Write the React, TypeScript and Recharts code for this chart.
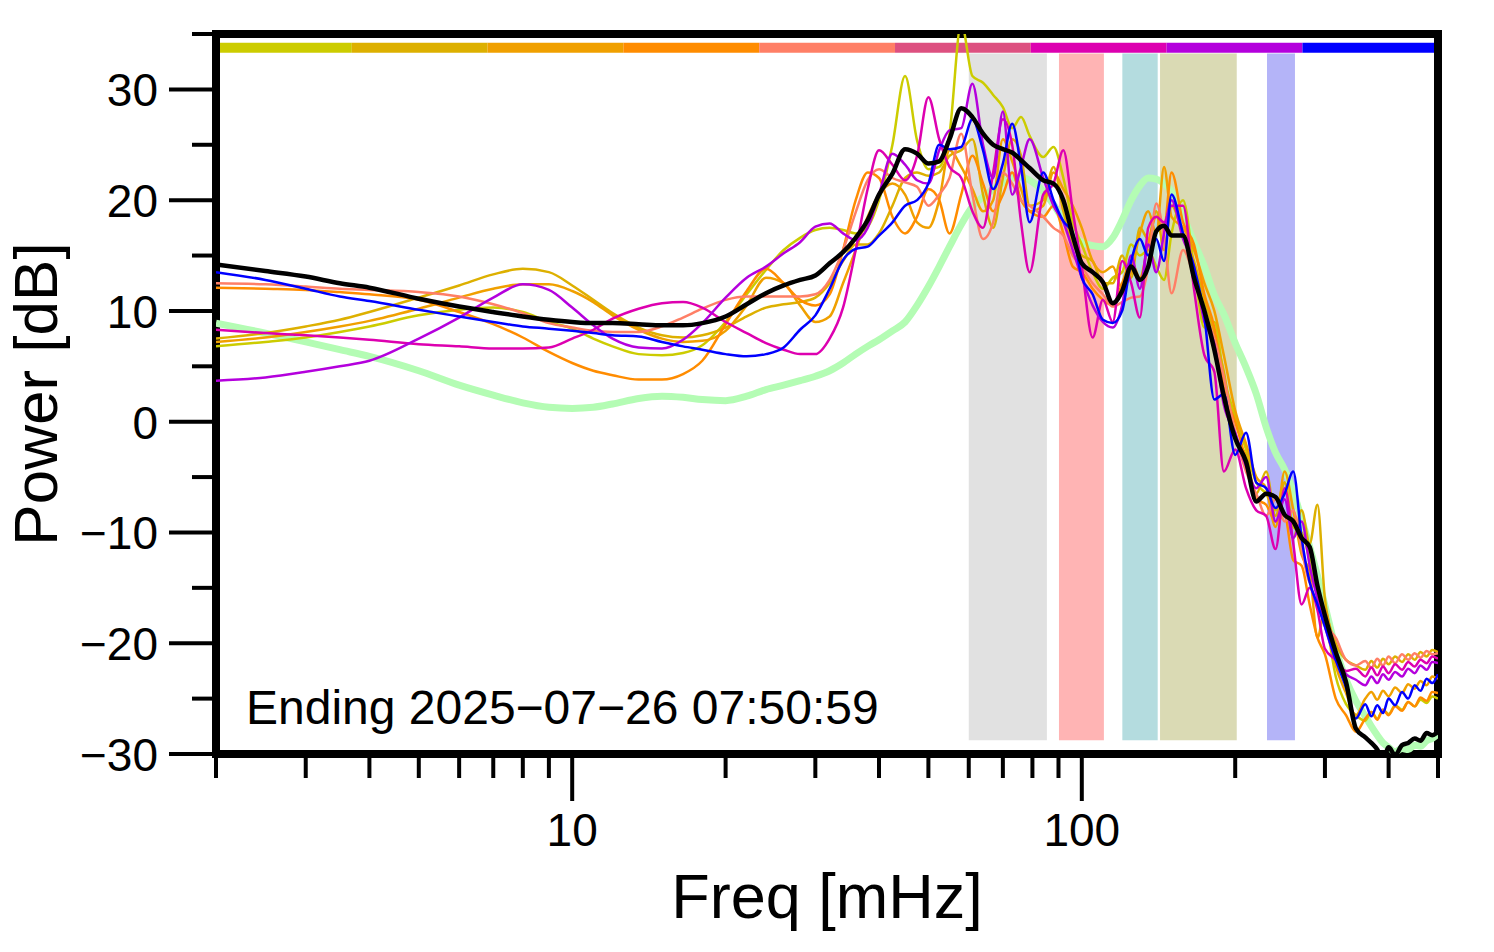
import React from 'react';
import { LineChart, Line, XAxis, YAxis, ReferenceArea, Label } from 'recharts';

const FONT = '"Liberation Sans", Arial, Helvetica, sans-serif';

const FREQ = [
  2, 2.5, 3, 3.5, 4, 5, 6, 7, 8, 9, 10, 11, 12, 13.5, 15, 16.5, 18, 20, 22, 24, 26, 28, 30, 32, 34, 36, 38,
  40, 42.5, 45, 47.5, 50, 52.5, 55, 58, 61, 64, 67, 70, 73, 76, 79,
  84, 88, 92, 96, 100, 105, 110, 115, 120, 125, 130, 135, 140, 145, 150,
  158, 166, 174, 182, 190, 200, 210, 220, 230, 240, 250, 260, 270, 280, 290, 300,
  315, 330, 345, 360, 370, 380, 390, 400, 412, 425, 437, 450, 462, 475, 487, 500,
];

const MEAN = [
  14.2, 13.6, 13.1, 12.5, 12.1, 11.1, 10.4, 9.9, 9.5, 9.2, 9.0, 8.9, 8.9, 8.8, 8.7, 8.7, 8.9, 9.5, 10.6, 11.6, 12.3, 12.8, 13.2, 14.3, 15.3, 16.6, 18.2,
  20.5, 22.4, 24.6, 24.2, 23.3, 23.5, 25.5, 28.3, 27.5, 26.0, 25.0, 24.6, 24.3, 23.6, 22.9,
  21.8, 21.5, 20.0, 16.8, 14.3, 13.5, 12.6, 10.7, 11.8, 14.0, 12.8, 14.0, 17.2, 17.7, 16.8,
  16.8, 13.0, 10.0, 6.5, 2.3, -1.5, -3.6, -7.2, -6.5, -6.8, -8.4, -9.0, -10.5, -11.3, -14.8, -17.5,
  -20.8, -23.5, -27.7, -28.5, -29.0, -29.6, -30.6, -29.4, -30.1, -29.2, -29.0, -28.6, -28.8, -28.1, -28.3, -28.0,
];

const REFERENCE = [
  8.9, 8.0, 7.2, 6.5, 5.9, 4.6, 3.3, 2.4, 1.7, 1.3, 1.2, 1.3, 1.6, 2.1, 2.3, 2.2, 2.0, 1.9, 2.3, 2.9, 3.3, 3.7, 4.1, 4.6, 5.3, 6.1, 6.8,
  7.4, 8.2, 9.0, 10.5, 12.2, 14.0, 15.8, 17.8, 19.4, 20.3, 21.0, 21.6, 22.0, 22.1, 21.8,
  20.8, 19.6, 18.2, 17.0, 16.2, 15.9, 15.8, 16.6, 18.2, 20.0, 21.3, 22.0, 21.9, 21.5, 20.8,
  18.6, 16.2, 14.0, 11.4, 9.7, 7.1, 4.9, 2.5, -0.5, -2.8, -4.3, -6.3, -8.8, -11.3, -13.9, -16.6,
  -20.5, -23.3, -25.2, -26.6, -27.5, -28.3, -29.0, -29.4, -29.8, -29.5, -29.6, -29.2, -29.3, -28.8, -28.6, -28.2,
];

const S1 = [
  6.8, 7.2, 7.6, 8.1, 8.6, 9.6, 10.1, 10.3, 9.9, 9.0, 8.4, 7.5, 6.8, 6.1, 6.0, 6.2, 6.9, 9.0, 11.5, 13.7, 15.5, 16.6, 17.3, 17.5, 17.3, 17.0, 17.6,
  20.0, 25.0, 31.2, 25.4, 22.8, 23.0, 26.0, 36.0, 31.2, 30.6, 29.5, 28.4, 26.5, 27.5, 25.8,
  23.9, 24.8, 22.0, 18.0, 16.0, 13.5, 12.0, 13.0, 13.5, 16.0, 15.0, 15.5, 14.0, 12.8, 17.0,
  20.0, 14.0, 8.5, 9.0, 4.0, 0.5, -2.5, -5.5, -6.5, -8.0, -5.5, -9.5, -10.0, -12.5, -15.5, -17.5,
  -23.0, -25.5, -26.5, -27.0, -26.2, -26.8, -26.0, -26.4, -25.6, -26.0, -25.3, -25.7, -25.1, -25.4, -24.8, -25.0,
];

const S2 = [
  7.5, 8.0, 8.6, 9.2, 9.9, 11.2, 12.3, 13.3, 13.8, 13.5, 12.3, 11.0, 9.8, 8.5, 7.8, 7.6, 7.8, 8.5, 9.5, 10.3, 10.6, 10.8, 11.2, 12.5, 14.5, 16.0, 16.0,
  17.0, 19.5, 22.0, 22.5, 22.2, 22.5, 24.0, 24.5, 25.5, 20.5, 17.5, 22.0, 25.5, 24.0, 19.5,
  20.0, 23.0, 19.0, 16.0, 15.0, 14.5, 12.5, 12.5, 15.0, 13.0, 17.5, 16.5, 19.0, 15.5, 19.5,
  17.0, 14.5, 11.0, 8.0, 4.5, -1.5, -3.0, -6.5, -4.5, -8.5, -5.5, -10.5, -8.0, -11.0, -7.5, -16.0,
  -20.0, -21.5, -22.0, -22.4, -21.6, -22.2, -21.4, -21.9, -21.2, -21.7, -21.0, -21.5, -20.8, -21.2, -20.6, -20.8,
];

const S3 = [
  7.2, 7.6, 8.1, 8.6, 9.1, 10.2, 11.2, 12.0, 12.4, 12.4, 11.8, 10.8, 9.6, 8.3, 7.5, 7.2, 7.3, 8.2, 10.5, 13.0, 12.5, 10.5, 9.0, 9.5, 12.5, 15.5, 18.5,
  20.5, 21.5, 20.5, 18.0, 17.5, 20.0, 24.5, 23.0, 21.0, 19.0, 20.0, 25.5, 23.5, 21.0, 19.0,
  19.5, 22.5, 21.0, 19.5, 17.5, 14.5, 13.5, 14.0, 12.0, 13.5, 17.0, 19.0, 17.0, 23.0, 18.5,
  17.5, 15.5, 12.5, 10.0, 6.0, 1.0, -2.0, -5.0, -6.0, -9.5, -4.5, -8.0, -12.0, -13.5, -19.5, -17.0,
  -22.0, -24.5, -26.5, -25.0, -24.4, -25.1, -24.3, -24.8, -24.0, -24.5, -23.7, -24.1, -23.4, -23.8, -23.0, -23.2,
];

const S4 = [
  12.1, 12.0, 11.9, 11.7, 11.5, 11.0, 9.9, 8.8, 7.6, 6.3, 5.3, 4.6, 4.2, 3.8, 3.8, 4.3, 5.5, 8.8, 11.8, 13.8, 12.5, 11.0, 10.5, 11.5, 15.5, 20.0, 22.5,
  22.0, 18.5, 17.0, 18.5, 21.0, 20.0, 17.0, 20.5, 24.0, 21.5, 19.0, 20.5, 22.5, 20.0, 19.0,
  18.5, 19.5, 17.0, 14.0, 13.5, 12.0, 11.0, 10.5, 12.5, 14.5, 13.0, 16.0, 18.5, 17.5, 22.5,
  18.0, 16.0, 11.5, 8.5, 3.0, 0.0, -3.5, -7.0, -7.5, -9.0, -8.5, -12.5, -13.0, -16.5, -19.5, -21.0,
  -25.0, -26.5, -28.0, -26.8, -26.2, -26.9, -26.0, -26.5, -25.7, -26.1, -25.3, -25.7, -24.9, -25.2, -24.4, -24.5,
];

const S5 = [
  12.5, 12.4, 12.2, 12.0, 11.9, 11.7, 11.3, 10.6, 9.8, 8.9, 8.5, 8.2, 8.1, 8.1, 8.6, 9.4, 10.2, 11.0, 11.3, 11.3, 11.3, 11.3, 11.5, 12.8, 15.5, 18.9, 21.8,
  22.8, 22.0, 21.6, 21.2, 19.5, 20.5, 22.0, 26.0, 20.5, 16.5, 18.0, 22.5, 21.5, 20.0, 19.5,
  18.5, 17.5, 16.8, 15.0, 14.0, 12.5, 11.5, 10.4, 10.8, 11.2, 11.3, 14.0, 19.7, 16.7, 11.6,
  15.5, 13.1, 10.0, 7.5, 4.0, -1.0, -4.5, -6.5, -8.5, -7.0, -9.0, -8.0, -11.5, -14.5, -15.0, -18.0,
  -19.5, -21.5, -22.0, -21.6, -22.2, -21.4, -22.0, -21.2, -21.8, -21.0, -21.5, -20.9, -21.3, -20.7, -21.0, -20.9,
];

const S7 = [
  8.3, 8.0, 7.8, 7.6, 7.4, 7.0, 6.8, 6.6, 6.6, 6.7, 7.5, 8.3, 9.3, 10.2, 10.7, 10.8, 10.3, 9.0, 8.0, 7.1, 6.5, 6.1, 6.1, 7.5, 10.3, 15.5, 21.0,
  24.5, 23.2, 21.8, 24.0, 29.3, 25.5, 23.0, 22.0, 19.0, 17.5, 22.5, 27.3, 25.0, 18.0, 13.5,
  20.5, 21.5, 24.5, 19.0, 14.0, 7.6, 11.0, 9.0, 14.5, 12.5, 9.4, 17.5, 18.5, 18.0, 19.5,
  19.5, 12.0, 6.0, 4.5, -4.5, -2.5, -6.0, -8.0, -8.5, -11.5, -6.0, -11.0, -16.5, -15.0, -17.0, -20.5,
  -21.5, -22.5, -22.3, -23.0, -22.2, -22.9, -22.1, -22.7, -21.9, -22.4, -21.7, -22.1, -21.5, -21.8, -21.2, -21.4,
];

const S8 = [
  3.7, 4.0, 4.5, 5.0, 5.5, 7.5, 9.4, 11.2, 12.4, 11.9, 10.3, 8.7, 7.5, 6.7, 6.6, 7.4, 8.9, 11.2, 13.0, 14.0, 15.2, 16.2, 17.6, 17.9, 17.0, 16.4, 17.5,
  20.5, 24.2, 23.2, 21.8, 21.5, 24.5, 26.3, 26.5, 30.5, 25.0, 22.0, 28.0, 20.5, 23.0, 25.5,
  22.0, 19.5, 18.0, 15.5, 13.0, 10.5, 9.0, 8.5, 10.5, 15.0, 12.0, 16.0, 13.5, 17.0, 20.0,
  16.5, 14.0, 9.0, 7.0, 1.5, -1.0, -4.0, -6.0, -5.0, -9.0, -7.0, -10.5, -9.0, -13.0, -16.0, -18.5,
  -21.5, -22.8, -23.3, -23.8, -23.0, -23.6, -22.8, -23.3, -22.6, -23.0, -22.3, -22.7, -22.0, -22.4, -21.7, -21.8,
];

const S9 = [
  13.5, 12.8, 12.0, 11.3, 10.9, 10.1, 9.5, 9.0, 8.6, 8.4, 8.2, 8.0, 7.8, 7.7, 7.2, 6.8, 6.5, 6.1, 5.9, 6.1, 6.7, 8.3, 9.6, 12.0, 14.6, 15.6, 15.8,
  16.8, 18.0, 19.5, 20.0, 21.5, 25.0, 24.6, 24.8, 27.3, 24.5, 21.0, 23.3, 26.9, 23.0, 18.0,
  22.5, 20.0, 18.1, 17.0, 13.0, 11.5, 9.2, 8.9, 10.0, 14.5, 16.5, 15.0, 16.5, 14.5, 20.5,
  17.0, 14.0, 9.5, 2.0, 2.5, -3.0, -1.0, -5.5, -6.0, -7.8, -6.5, -4.5, -10.5, -14.5, -16.5, -18.5,
  -21.5, -24.0, -26.8, -25.5, -26.6, -25.6, -26.3, -25.0, -25.6, -24.4, -25.0, -23.8, -24.3, -23.2, -23.6, -22.8,
];

const SERIES = [
  { key: 's1', color: '#cccc00', values: S1 },
  { key: 's2', color: '#ddb000', values: S2 },
  { key: 's3', color: '#f0a000', values: S3 },
  { key: 's4', color: '#ff8c00', values: S4 },
  { key: 's5', color: '#ff7f66', values: S5 },
  { key: 's7', color: '#dd00b0', values: S7 },
  { key: 's8', color: '#b400dd', values: S8 },
  { key: 's9', color: '#0000ff', values: S9 },
];

const BAR_EDGES = [2, 3.694, 6.823, 12.6, 23.28, 43.0, 79.4, 146.7, 271, 500];
const BAR_COLORS = ['#cccc00', '#ddb000', '#f0a000', '#ff8c00', '#ff7f66', '#dd5080', '#dd00b0', '#b400dd', '#0000ff'];

const BAND_X1 = [60, 90.2, 120.1, 142.4, 230.9];
const BAND_X2 = [85.4, 110.5, 140.9, 201.4, 262];
const BAND_COLORS = ['#e1e1e1', '#ffb4b4', '#b4dcdf', '#dadab4', '#b4b4f8'];

const X_TICKS = [2, 3, 4, 5, 6, 7, 8, 9, 10, 20, 30, 40, 50, 60, 70, 80, 90, 100, 200, 300, 400, 500];
const X_LABELED = [10, 100];
const Y_TICKS = [-30, -25, -20, -15, -10, -5, 0, 5, 10, 15, 20, 25, 30, 35];
const Y_LABELED = [-30, -20, -10, 0, 10, 20, 30];

const ENDING = 'Ending 2025\u221207\u221226 07:50:59';

const rows = FREQ.map((f, i) => {
  const row: Record<string, number> = { f, ref: REFERENCE[i], mean: MEAN[i] };
  SERIES.forEach((s) => {
    row[s.key] = s.values[i];
  });
  return row;
});

const fmt = (v: number) => (v < 0 ? '\u2212' + Math.abs(v) : String(v));

const XTick = (props: any) => {
  const { x, y, payload } = props;
  const v = payload.value;
  const major = X_LABELED.includes(v);
  return (
    <g>
      <line x1={x} x2={x} y1={y} y2={y + (major ? 47 : 24)} stroke="#000" strokeWidth={4} />
      {major && (
        <text x={x} y={y + 92} textAnchor="middle" fontSize={46} fontFamily={FONT} fill="#000">
          {fmt(v)}
        </text>
      )}
    </g>
  );
};

const YTick = (props: any) => {
  const { x, y, payload } = props;
  const v = payload.value;
  const major = Y_LABELED.includes(v);
  return (
    <g>
      <line x1={x - (major ? 47 : 24)} x2={x} y1={y} y2={y} stroke="#000" strokeWidth={4} />
      {major && (
        <text x={x - 58} y={y + 17} textAnchor="end" fontSize={46} fontFamily={FONT} fill="#000">
          {fmt(v)}
        </text>
      )}
    </g>
  );
};

export default function App() {
  return (
    <div style={{ position: 'absolute', left: 0, top: 0, width: 1494, height: 952, background: '#fff' }}>
      <LineChart width={1494} height={952} data={rows} margin={{ top: 34, right: 56, bottom: 0, left: 0 }}>
        <XAxis
          dataKey="f"
          type="number"
          scale="log"
          domain={[2, 500]}
          allowDataOverflow
          ticks={X_TICKS}
          interval={0}
          tick={<XTick />}
          tickLine={false}
          axisLine={false}
          tickSize={0}
          tickMargin={0}
          height={198}
        >
          <Label value="Freq [mHz]" position="insideBottom" offset={34} fontSize={63} fontFamily={FONT} fill="#000" />
        </XAxis>
        <YAxis
          type="number"
          domain={[-30, 35]}
          allowDataOverflow
          ticks={Y_TICKS}
          interval={0}
          tick={<YTick />}
          tickLine={false}
          axisLine={false}
          tickSize={0}
          tickMargin={0}
          width={216}
        >
          <Label
            value="Power [dB]"
            angle={-90}
            position="insideLeft"
            offset={35}
            fontSize={62}
            fontFamily={FONT}
            fill="#000"
            style={{ textAnchor: 'middle' }}
          />
        </YAxis>
        {BAND_X1.map((x1, i) => (
          <ReferenceArea
            key={'band' + i}
            x1={x1}
            x2={BAND_X2[i]}
            y1={-28.75}
            y2={33.25}
            fill={BAND_COLORS[i]}
            fillOpacity={1}
            stroke="none"
            ifOverflow="visible"
          />
        ))}
        {BAR_COLORS.map((c, i) => (
          <ReferenceArea
            key={'bar' + i}
            x1={BAR_EDGES[i]}
            x2={BAR_EDGES[i + 1]}
            y1={33.3}
            y2={34.2}
            fill={c}
            fillOpacity={1}
            stroke="none"
            ifOverflow="visible"
          />
        ))}
        <Line dataKey="ref" stroke="#b4fcb4" strokeWidth={7} dot={false} type="monotone" isAnimationActive={false} />
        {SERIES.map((s) => (
          <Line
            key={s.key}
            dataKey={s.key}
            stroke={s.color}
            strokeWidth={2.5}
            dot={false}
            type="monotone"
            isAnimationActive={false}
          />
        ))}
        <Line dataKey="mean" stroke="#000" strokeWidth={4.5} dot={false} type="monotone" isAnimationActive={false} />
        <ReferenceArea x1={2} x2={500} y1={-30} y2={35} fill="none" stroke="#000" strokeWidth={8} ifOverflow="visible">
          <Label value={ENDING} position="insideBottomLeft" offset={30} fontSize={48} fontFamily={FONT} fill="#000" />
        </ReferenceArea>
      </LineChart>
    </div>
  );
}
